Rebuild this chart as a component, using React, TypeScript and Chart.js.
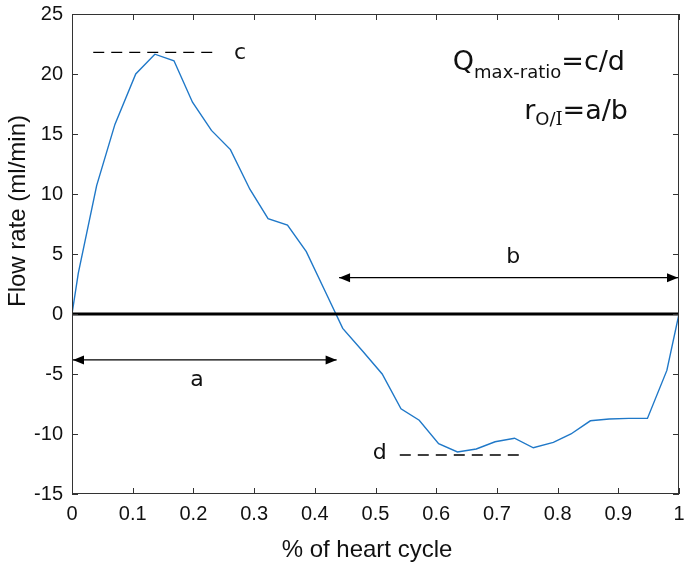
import React, { useEffect, useRef } from "react";
import { Chart, registerables } from "chart.js";

Chart.register(...registerables);

// ---- data ----
const cyclePos = [0, 0.0104, 0.0406, 0.0707, 0.105, 0.1365, 0.168, 0.1985, 0.2297, 0.261, 0.293, 0.323, 0.355, 0.386, 0.417, 0.446, 0.479, 0.511, 0.542, 0.572, 0.604, 0.635, 0.666, 0.697, 0.729, 0.76, 0.793, 0.822, 0.854, 0.885, 0.917, 0.948, 0.98, 1.0];
const flowRate = [0, 3.4, 10.7, 15.8, 20.0, 21.65, 21.1, 17.65, 15.3, 13.7, 10.4, 7.95, 7.4, 5.2, 1.9, -1.2, -3.1, -5.0, -7.9, -8.85, -10.8, -11.5, -11.25, -10.65, -10.35, -11.15, -10.7, -10.0, -8.9, -8.75, -8.7, -8.7, -4.7, 0];

const zeroLineX = [0, 1];
const cLineX = [0.035, 0.24];
const cLevel = 21.8;
const dLineX = [0.54, 0.738];
const dLevel = -11.75;
const arrowAX = [0, 0.436];
const arrowALevel = -3.83;
const arrowBX = [0.44, 1.0];
const arrowBLevel = 3.03;

const labelA = { text: "a", x: 0.206, y: -5.5 };
const labelB = { text: "b", x: 0.727, y: 4.75 };
const labelC = { text: "c", x: 0.277, y: 21.7 };
const labelD = { text: "d", x: 0.507, y: -11.6 };

const xTitle = "% of heart cycle";
const yTitle = "Flow rate (ml/min)";

const SANS = "'Liberation Sans', Arial, Helvetica, sans-serif";
const DEJAVU = "'DejaVu Sans', sans-serif";

const framePlugin = {
  id: "framePlugin",
  afterDraw(chart: any) {
    const { ctx, chartArea } = chart;
    const { left, right, top, bottom } = chartArea;
    const xs = chart.scales.x;
    const ys = chart.scales.y;
    ctx.save();
    // frame
    ctx.strokeStyle = "#333";
    ctx.lineWidth = 1;
    ctx.strokeRect(Math.round(left) + 0.5, Math.round(top) + 0.5, Math.round(right - left) - 1, Math.round(bottom - top) - 1);
    // inward ticks
    const tl = 6;
    ctx.beginPath();
    xs.ticks.forEach((t: any) => {
      const px = Math.round(xs.getPixelForValue(t.value)) + 0.5;
      ctx.moveTo(px, bottom);
      ctx.lineTo(px, bottom - tl);
      ctx.moveTo(px, top);
      ctx.lineTo(px, top + tl);
    });
    ys.ticks.forEach((t: any) => {
      const py = Math.round(ys.getPixelForValue(t.value)) + 0.5;
      ctx.moveTo(left, py);
      ctx.lineTo(left + tl, py);
      ctx.moveTo(right, py);
      ctx.lineTo(right - tl, py);
    });
    ctx.stroke();

    // arrowheads
    const head = (tipX: number, tipY: number, dir: number) => {
      const L = 11, W = 4.5;
      ctx.beginPath();
      ctx.moveTo(tipX, tipY);
      ctx.lineTo(tipX - dir * L, tipY - W);
      ctx.lineTo(tipX - dir * L, tipY + W);
      ctx.closePath();
      ctx.fill();
    };
    ctx.fillStyle = "#000";
    const aY = ys.getPixelForValue(arrowALevel);
    head(xs.getPixelForValue(arrowAX[0]) + 1, aY, -1);
    head(xs.getPixelForValue(arrowAX[1]), aY, 1);
    const bY = ys.getPixelForValue(arrowBLevel);
    head(xs.getPixelForValue(arrowBX[0]), bY, -1);
    head(xs.getPixelForValue(arrowBX[1]) - 1, bY, 1);

    // letter labels
    ctx.fillStyle = "#111";
    ctx.font = `22px ${DEJAVU}`;
    ctx.textAlign = "center";
    ctx.textBaseline = "middle";
    [labelA, labelB, labelC, labelD].forEach((l) => {
      ctx.fillText(l.text, xs.getPixelForValue(l.x), ys.getPixelForValue(l.y));
    });

    // formula text (right aligned)
    const mainF = `27px ${DEJAVU}`;
    const subF = `18px ${DEJAVU}`;
    const drawRuns = (runs: { t: string; f: string; dy: number }[], endX: number, base: number) => {
      let w = 0;
      runs.forEach((r) => { ctx.font = r.f; w += ctx.measureText(r.t).width; });
      let x = endX - w;
      ctx.textAlign = "left";
      ctx.textBaseline = "alphabetic";
      runs.forEach((r) => {
        ctx.font = r.f;
        ctx.fillText(r.t, x, base + r.dy);
        x += ctx.measureText(r.t).width;
      });
    };
    drawRuns([
      { t: "Q", f: mainF, dy: 0 },
      { t: "max-ratio", f: subF, dy: 8 },
      { t: "=c/d", f: mainF, dy: 0 },
    ], 625, 70);
    drawRuns([
      { t: "r", f: mainF, dy: 0 },
      { t: "O/", f: subF, dy: 6 },
      { t: "I", f: `18px 'DejaVu Serif', serif`, dy: 6 },
      { t: "=a/b", f: mainF, dy: 0 },
    ], 628, 119);

    // axis titles
    ctx.fillStyle = "#111";
    ctx.font = `24px ${SANS}`;
    ctx.textAlign = "center";
    ctx.textBaseline = "middle";
    ctx.fillText(xTitle, 367, 550);
    ctx.save();
    ctx.translate(18, 211);
    ctx.rotate(-Math.PI / 2);
    ctx.fillText(yTitle, 0, 0);
    ctx.restore();

    ctx.restore();
  },
};

export default function App() {
  const ref = useRef<HTMLCanvasElement>(null);
  useEffect(() => {
    const canvas = ref.current;
    if (!canvas) return;
    const lineStyle = { pointRadius: 0, tension: 0, fill: false };
    const chart = new Chart(canvas, {
      type: "line",
      data: {
        datasets: [
          { label: "zero", data: zeroLineX.map((x) => ({ x, y: 0 })), borderColor: "#000", borderWidth: 3, ...lineStyle },
          { label: "arrowA", data: arrowAX.map((x) => ({ x, y: arrowALevel })), borderColor: "#000", borderWidth: 1.2, ...lineStyle },
          { label: "arrowB", data: arrowBX.map((x) => ({ x, y: arrowBLevel })), borderColor: "#000", borderWidth: 1.2, ...lineStyle },
          { label: "c", data: cLineX.map((x) => ({ x, y: cLevel })), borderColor: "#000", borderWidth: 1.3, borderDash: [11, 7], ...lineStyle },
          { label: "d", data: dLineX.map((x) => ({ x, y: dLevel })), borderColor: "#000", borderWidth: 1.3, borderDash: [11, 7], ...lineStyle },
          { label: "flow", data: cyclePos.map((x, i) => ({ x, y: flowRate[i] })), borderColor: "#1f78c8", borderWidth: 1.4, ...lineStyle },
        ],
      },
      options: {
        animation: false,
        responsive: true,
        maintainAspectRatio: false,
        events: [],
        layout: { padding: { top: 14, right: 6, left: 0, bottom: 0 } },
        plugins: { legend: { display: false }, tooltip: { enabled: false } },
        scales: {
          x: {
            type: "linear",
            min: 0,
            max: 1,
            grid: { display: false, drawTicks: false },
            border: { display: false },
            ticks: {
              stepSize: 0.1,
              autoSkip: false,
              maxRotation: 0,
              padding: 8,
              color: "#111",
              font: { family: SANS, size: 20 },
              callback: (v: any) => String(Math.round(Number(v) * 10) / 10),
            },
            afterFit: (s: any) => { s.height = 68; s.paddingLeft = 0; s.paddingRight = 0; },
          },
          y: {
            type: "linear",
            min: -15,
            max: 25,
            grid: { display: false, drawTicks: false },
            border: { display: false },
            ticks: {
              stepSize: 5,
              padding: 9,
              color: "#111",
              font: { family: SANS, size: 20 },
            },
            afterFit: (s: any) => { s.width = 72; s.paddingTop = 0; s.paddingBottom = 0; },
          },
        },
      },
      plugins: [framePlugin],
    } as any);
    return () => chart.destroy();
  }, []);
  return (
    <div style={{ position: "absolute", left: 0, top: 0, width: 685, height: 562 }}>
      <canvas ref={ref} />
    </div>
  );
}
